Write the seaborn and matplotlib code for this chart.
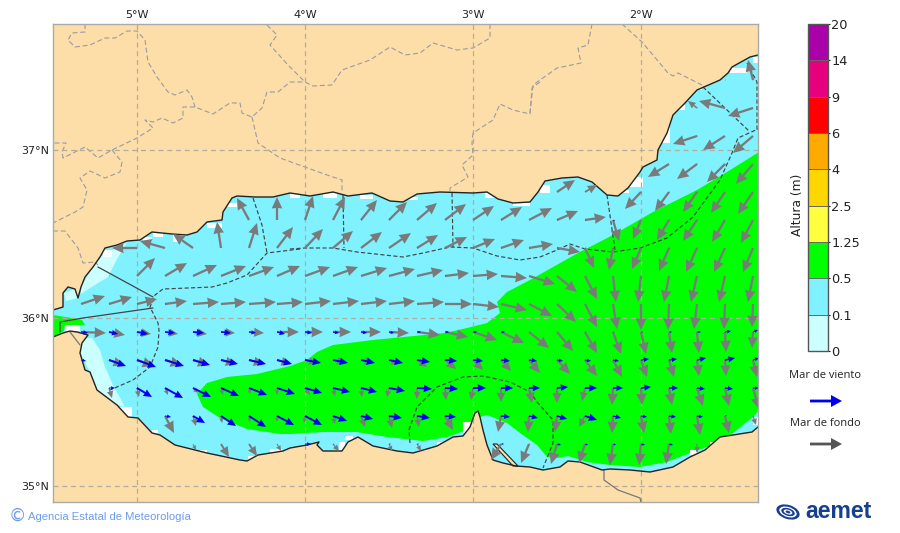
import numpy as np
import matplotlib
matplotlib.use("Agg")
import matplotlib.pyplot as plt
from matplotlib.patches import Polygon, Rectangle, Ellipse
from matplotlib.colors import ListedColormap, BoundaryNorm
from matplotlib.cm import ScalarMappable
import seaborn as sns

# ---------- data (map readings in grid units of 1/168 degree) ----------
lon_ticks = [-5, -4, -3, -2]
lat_ticks = [37, 36, 35]
levels_labels = ["0", "0.1", "0.5", "1.25", "2.5", "4", "6", "9", "14", "20"]
level_colors = ["#CCFFFF", "#80F2FF", "#00FF00", "#FFFF40", "#FFD700", "#FFAA00", "#FF0000", "#E6007E", "#AA00AA"]

north_coast = [(53,310),(63,307),(63,293),(68,287),(75,289),(78,298),(81,287),(85,277),(93,267),(100,257),(105,248),
 (117,245),(127,241),(140,240),(152,232),(172,234),(187,235),(197,232),(207,222),(222,220),(223,212),(232,198),(237,196),
 (255,197),(273,197),(290,193),(310,196),(333,192),(348,196),(372,193),(390,201),(403,202),(417,194),(440,192),(473,193),
 (487,192),(498,199),(513,203),(530,202),(538,192),(545,181),(562,178),(578,177),(592,182),(607,195),(618,196),(628,188),
 (640,172),(643,167),(657,160),(658,150),(667,133),(673,115),(685,103),(697,90),(720,80),(728,73),(732,67),(750,57),(758,55)]
south_coast = [(758,427),(752,432),(733,435),(720,437),(705,450),(690,457),(673,467),(650,472),(630,470),(610,469),(602,470),
 (580,462),(568,461),(560,467),(543,470),(530,467),(516,466),(503,463),(493,460),(487,445),(483,430),(480,417),(478,411),
 (475,413),(470,427),(463,436),(453,437),(437,446),(413,453),(397,451),(373,446),(358,437),(348,442),(342,451),(323,451),
 (317,445),(319,442),(307,445),(290,448),(283,451),(258,455),(247,461),(240,460),(207,453),(175,445),(160,435),(152,433),
 (138,418),(128,417),(117,405),(97,390),(90,372),(85,370),(80,353),(82,343),(88,335),(77,332),(70,331),(63,333),(53,337)]
spit = [(493,444),(497,444),(518,466),(513,466)]

green_main = [(197,394),(207,383),(227,377),(257,374),(290,366),(307,360),(317,352),(333,345),(373,340),(445,333),(467,328),
 (487,323),(500,313),(497,302),(507,292),(530,280),(578,253),(613,235),(653,212),(697,190),(727,172),(759,152),(759,410),
 (753,417),(733,433),(713,445),(690,453),(667,462),(640,467),(610,465),(587,462),(568,456),(557,458),(547,457),(537,445),
 (520,433),(507,423),(487,415),(480,417),(475,420),(467,430),(447,437),(423,441),(387,437),(357,432),(323,432),(290,434),
 (280,434),(247,429),(220,418),(203,407)]
green_strait = [(53,315),(72,318),(82,320),(85,325),(65,325),(64,331),(53,337)]
pale_1 = [(64,293),(75,289),(78,298),(66,301)]
pale_2 = [(81,287),(98,258),(127,242),(115,263),(108,277),(90,288),(81,294)]
pale_3 = [(83,338),(92,338),(100,350),(105,367),(113,385),(125,407),(117,405),(97,390),(90,372),(80,353)]
white_cells = [(103,250,112,257),(173,235,183,242),(207,223,222,228),(223,203,237,207),(153,233,163,237),(143,237,152,242),
 (323,193,337,198),(290,193,300,198),(360,195,373,199),(407,197,418,200),(485,193,497,198),(513,203,530,206),(540,185,550,193),
 (630,177,643,187),(623,190,629,193),(663,127,670,143),(677,105,685,110),(697,87,702,90),(730,68,747,73),(753,57,758,63),
 (120,407,132,417),(152,430,158,433),(248,456,257,460),(200,450,207,453),(270,449,282,452),(339,442,345,450),(345,436,353,440),
 (437,442,445,446),(463,422,472,433),(690,450,697,455),(710,442,715,445),(753,417,758,425),(65,325,80,331)]

sea_dash_a = [(253,198),(262,225),(267,253)]
sea_dash_b = [(300,249),(267,253),(247,275),(227,283),(212,287),(163,289),(155,295),(150,307),(158,323),(159,330),(158,347),(150,367),(133,380),(110,390)]
sea_dash_c = [(290,249),(305,248),(333,248),(357,252),(403,257),(423,253),(450,247),(473,248),(497,256),(520,260),(540,257),(557,250),(570,244),(585,249),(613,252),(640,248),(667,238),(693,217),(720,180),(732,153),(738,138),(758,129)]
sea_dash_d = [(343,195),(344,248)]
sea_dash_e = [(452,193),(453,247)]
sea_dash_f = [(607,195),(615,250)]
sea_dash_g = [(703,87),(750,132)]
sea_dash_h = [(747,63),(757,82),(757,130)]
sea_arc = [(410,443),(409,430),(417,407),(437,387),(463,377),(483,376),(510,382),(530,392),(537,402),(553,420),(553,443),(543,468)]
sea_solid_a = [(98,267),(153,297)]
sea_solid_b = [(153,308),(83,318),(60,322),(60,332)]
morocco_border = [(604,470),(604,480),(618,490),(640,498),(641,502)]
strait_border = [(70,332),(80,345)]

land_1 = [(85,24),(85,32),(72,33),(68,40),(75,47),(90,45),(105,38),(115,38),(127,31),(137,31),(145,40),(148,62),(157,77),(168,92),(175,95),(187,90),(192,97),(195,107)]
land_2 = [(267,25),(277,35),(270,45),(288,65),(305,82)]
land_3 = [(490,24),(490,38),(473,48),(457,50),(433,43),(420,53),(405,55),(390,47),(370,60),(342,70),(332,85),(313,86),(305,82),(290,82),(278,92),(267,92),(262,108),(252,117),(242,113),(240,103),(230,103),(213,114),(195,107),(183,107),(183,118),(173,123),(162,118),(153,122),(145,120),(153,128),(137,138),(112,150),(98,158),(85,147),(63,158),(62,152),(66,143),(53,143)]
land_4 = [(252,117),(258,143),(280,158),(327,175),(342,180),(342,193)]
land_5 = [(112,150),(122,162),(120,172),(105,178),(90,171),(80,178),(87,190),(83,207),(75,212),(53,223)]
land_6 = [(53,231),(65,231),(78,248),(83,263),(95,262),(98,265)]
land_7 = [(540,82),(532,88),(530,114),(513,110),(500,104),(493,120),(473,133),(472,143),(473,155),(462,165),(468,177),(450,188),(450,193)]
land_8 = [(592,24),(588,45),(578,48),(581,63),(557,68),(533,85),(530,113)]
land_9 = [(622,24),(642,42),(668,73),(673,76),(678,73),(702,85)]

# wave vectors by grid row and column: (column, east, north)
swell_r0 = [(24,-5,20)]
swell_r1 = [(22,-9,7),(23,-26,7),(24,-25,-8)]
swell_r2 = [(22,-24,-8),(23,-22,-14),(24,-20,-17)]
swell_r3 = [(21,-21,-13),(22,-20,-15),(23,-18,-18),(24,-17,-20)]
swell_r4 = [(17,18,12),(18,12,7),(20,-16,-17),(21,-14,-19),(22,-14,-20),(23,-14,-21),(24,-15,-22)]
swell_r5 = [(6,-12,22),(7,0,23),(8,8,24),(9,12,23),(10,16,20),(11,18,18),(12,20,17),(13,21,16),(14,21,14),(15,21,13),(16,23,12),(17,21,9),(18,21,3),(19,6,-21),(20,-8,-19),(21,-12,-20),(22,-14,-21),(23,-13,-22),(24,-12,-23)]
swell_r6 = [(2,-25,0),(3,-25,7),(4,-20,14),(5,-4,26),(6,8,25),(7,16,21),(8,18,19),(9,20,17),(10,21,16),(11,22,15),(12,21,13),(13,22,11),(14,22,9),(15,23,8),(16,24,4),(17,23,-4),(18,9,-20),(19,-4,-22),(20,-9,-21),(21,-10,-23),(22,-11,-24),(23,-11,-24),(24,-10,-24)]
swell_r7 = [(2,18,18),(3,22,13),(4,24,11),(5,25,10),(6,25,9),(7,23,10),(8,25,9),(9,25,9),(10,26,8),(11,26,7),(12,26,6),(13,24,3),(14,25,2),(15,26,-2),(16,26,-8),(17,20,-16),(18,12,-23),(19,3,-26),(20,-3,-26),(21,-5,-26),(22,-6,-26),(23,-6,-26),(24,-5,-26)]
swell_r8 = [(0,24,8),(1,23,7),(2,20,5),(3,22,3),(4,26,2),(5,25,2),(6,27,2),(7,26,2),(8,26,3),(9,26,3),(10,26,3),(11,26,3),(12,27,2),(13,27,0),(14,26,-3),(15,26,-6),(16,23,-12),(17,19,-18),(18,12,-23),(19,4,-25),(20,0,-26),(21,-1,-26),(22,-3,-25),(23,-1,-25),(24,-1,-23)]
swell_r9 = [(0,25,-1),(1,16,-3),(2,14,-2),(3,13,-2),(4,14,-2),(5,14,-1),(6,15,-1),(7,22,0),(8,18,0),(9,18,0),(10,20,0),(11,20,-1),(12,23,-3),(13,23,-5),(14,24,-8),(15,23,-11),(16,20,-16),(17,16,-19),(18,12,-21),(19,8,-22),(20,5,-22),(21,3,-21),(22,2,-21),(23,1,-20),(24,-1,-16)]
swell_r10 = [(1,15,-5),(2,17,-6),(3,17,-5),(4,16,-5),(5,15,-4),(6,15,-4),(7,14,-4),(8,12,-3),(9,12,-3),(10,12,-3),(11,9,-5),(12,10,-7),(13,11,-9),(14,10,-10),(15,10,-11),(16,11,-13),(17,13,-14),(18,12,-16),(19,9,-17),(20,6,-17),(21,5,-17),(22,2,-16),(23,1,-16),(24,4,-17)]
swell_r11 = [(1,3,-10),(2,2,-9),(3,3,-7),(4,5,-5),(5,2,-7),(6,1,-6),(7,0,-7),(8,5,-7),(9,2,-8),(10,1,-9),(11,-2,-9),(12,0,-11),(13,1,-12),(14,-2,-12),(15,0,-14),(16,3,-15),(17,0,-15),(18,-3,-13),(19,-1,-17),(20,1,-17),(21,3,-17),(22,6,-18),(23,4,-18),(24,6,-21)]
swell_r12 = [(3,9,-17),(4,3,-10),(5,1,-7),(6,1,-6),(7,0,-6),(8,-1,-7),(9,2,-8),(10,4,-11),(11,3,-12),(12,2,-11),(13,8,-14),(15,-3,-16),(16,-1,-16),(17,-2,-16),(18,-6,-11),(19,-1,-17),(20,3,-17),(21,2,-18),(22,3,-19),(23,4,-17),(24,3,-9)]
swell_r13 = [(4,3,-6),(5,8,-13),(6,8,-12),(7,4,-7),(9,6,-7),(11,3,-7),(12,4,-7),(15,-10,-16),(16,-8,-19),(17,-6,-20),(18,-6,-19),(19,-3,-21),(20,-2,-21),(21,-3,-20),(22,0,-9)]
swell_rows = [swell_r0,swell_r1,swell_r2,swell_r3,swell_r4,swell_r5,swell_r6,swell_r7,swell_r8,swell_r9,swell_r10,swell_r11,swell_r12,swell_r13]

wind_r0 = [(23,1,0),(24,1,0)]
wind_r1 = [(22,1,0)]
wind_r2 = [(22,1,0)]
wind_r3 = [(22,1,0),(23,1,0)]
wind_r4 = [(20,1,0),(21,1,0),(22,1,0)]
wind_r5 = [(5,1,0),(10,1,0),(11,1,0),(15,1,0),(17,1,0),(18,1,0),(19,2,-1),(20,1,0),(21,1,0),(22,1,0)]
wind_r6 = [(12,1,0),(13,1,0),(14,1,0),(15,1,0),(16,1,0),(17,1,0),(18,1,0),(19,1,0),(20,1,0),(21,1,0),(22,1,0)]
wind_r7 = [(1,1,0),(13,1,0),(14,1,0)]
wind_r8 = [(1,1,0),(2,1,0),(3,1,0),(7,1,0)]
wind_r9 = [(0,7,-1),(1,9,-2),(2,11,-2),(3,10,-1),(4,11,-1),(5,10,-1),(6,7,-1),(7,8,-2),(8,7,-1),(9,6,-1),(10,6,-1),(11,5,-1),(12,4,0),(13,4,0),(14,4,0),(15,4,0),(18,1,0),(19,1,0),(20,2,0),(21,3,0),(22,4,0),(23,6,1),(24,5,2)]
wind_r10 = [(0,5,-1),(1,17,-6),(2,19,-7),(3,19,-6),(4,17,-5),(5,17,-4),(6,17,-4),(7,15,-4),(8,16,-3),(9,15,-3),(10,14,-3),(11,14,-3),(12,13,-2),(13,12,-1),(14,10,-1),(15,9,-1),(16,8,-1),(17,6,-1),(18,6,-1),(19,6,-1),(20,8,1),(21,8,1),(22,9,2),(23,10,2),(24,6,2)]
wind_r11 = [(1,6,0),(2,15,-9),(3,18,-10),(4,18,-9),(5,18,-8),(6,18,-7),(7,18,-6),(8,17,-5),(9,17,-4),(10,16,-4),(11,16,-3),(12,15,-1),(13,13,-1),(14,13,0),(15,12,0),(16,11,0),(17,11,1),(18,12,0),(19,10,0),(20,10,1),(21,9,0),(22,8,-1),(23,8,-1),(24,6,0)]
wind_r12 = [(3,6,-1),(4,12,-7),(5,15,-10),(6,17,-11),(7,17,-9),(8,17,-9),(9,14,-5),(10,12,-3),(11,13,-2),(12,13,-2),(13,11,-1),(15,9,-1),(16,9,-2),(17,10,-3),(18,12,-4),(19,8,-2),(20,6,-1),(21,7,-1),(22,6,-1),(23,2,1)]
wind_r13 = [(8,6,0),(9,1,0),(11,2,0),(12,2,0),(15,3,0),(16,1,0),(17,4,-1),(18,3,-1),(19,3,-1),(20,4,-1),(21,4,-1)]
wind_rows = [wind_r0,wind_r1,wind_r2,wind_r3,wind_r4,wind_r5,wind_r6,wind_r7,wind_r8,wind_r9,wind_r10,wind_r11,wind_r12,wind_r13]

# ---------- helpers ----------
UNITS = 168.0
def geo(points):
    p = np.asarray(points, float)
    return np.column_stack([-5 + (p[:, 0] - 137) / UNITS, 36 - (p[:, 1] - 318) / UNITS])

def vectors(rows):
    out = [(-5.3333 + c / 6.0, 37.4167 - r / 6.0, u, v) for r, row in enumerate(rows) for c, u, v in row]
    return np.array(out).T

def line(ax, pts, color, lw, ls="-", z=4):
    g = geo(pts)
    sns.lineplot(x=g[:, 0], y=g[:, 1], sort=False, estimator=None, color=color, linewidth=lw,
                 linestyle=ls, ax=ax, legend=False, zorder=z)

# ---------- figure ----------
sns.set_theme(style="white")
plt.rcParams["font.family"] = ["DejaVu Sans"]
fig = plt.figure(figsize=(9, 5.33), dpi=100)
ax = fig.add_axes([53/900, 31/533, 705/900, 478/533])
LAND = "#FDDEA9"
SEA = level_colors[1]
ax.set_facecolor(LAND)

sea_pts = geo(north_coast + south_coast)
sea = Polygon(sea_pts, closed=True, fc=SEA, ec="none", zorder=1)
ax.add_patch(sea)
for poly, col in [(pale_1, level_colors[0]), (pale_2, level_colors[0]), (pale_3, level_colors[0]),
                  (green_main, level_colors[2]), (green_strait, level_colors[2])]:
    p = Polygon(geo(poly), closed=True, fc=col, ec="none", zorder=1.5)
    ax.add_patch(p)
    p.set_clip_path(sea)
for x0, y0, x1, y1 in white_cells:
    g = geo([(x0, y1), (x1, y0)])
    r = Rectangle(g[0], g[1, 0] - g[0, 0], g[1, 1] - g[0, 1], fc="white", ec="none", zorder=2)
    ax.add_patch(r)
    r.set_clip_path(sea)

ax.add_patch(Polygon(geo(spit), closed=True, fc=LAND, ec="#222222", lw=0.8, zorder=3))

for pts in [land_1, land_2, land_3, land_4, land_5, land_6, land_7, land_8, land_9]:
    line(ax, pts, "#9c9aa0", 0.8, (0, (4.5, 2.5)), 2.5)
for lon in lon_ticks:
    ax.axvline(lon, color="#b3ad9e", lw=0.9, ls=(0, (4, 3)), zorder=2.6)
for lat in lat_ticks:
    ax.axhline(lat, color="#b3ad9e", lw=0.9, ls=(0, (4, 3)), zorder=2.6)

line(ax, morocco_border, "#777777", 0.9)
line(ax, strait_border, "#777777", 0.9)
for pts in [sea_dash_a, sea_dash_b, sea_dash_c, sea_dash_d, sea_dash_e, sea_dash_f, sea_dash_g, sea_dash_h, sea_arc]:
    line(ax, pts, "#444444", 0.85, (0, (3.5, 2)))
for pts in [sea_solid_a, sea_solid_b]:
    line(ax, pts, "#444444", 0.9)
line(ax, north_coast, "#222222", 1.0, z=5)
line(ax, south_coast, "#222222", 1.0, z=5)

x, y, u, v = vectors(swell_rows)
ax.quiver(x, y, u, v, angles="xy", scale_units="xy", scale=UNITS, units="dots", width=2.3, pivot="tail",
          headwidth=4.6, headlength=5.0, headaxislength=4.8, minshaft=1.5, minlength=0.3, color="#7a7a7a", zorder=6)
x, y, u, v = vectors(wind_rows)
ax.quiver(x, y, u, v, angles="xy", scale_units="xy", scale=UNITS, units="dots", width=1.9, pivot="tail",
          headwidth=4.0, headlength=4.4, headaxislength=4.2, minshaft=1.5, minlength=0.3, color="#0000ee", zorder=7)

ax.set_xlim(-5 + (53 - 137) / UNITS, -5 + (758 - 137) / UNITS)
ax.set_ylim(36 - (502 - 318) / UNITS, 36 - (24 - 318) / UNITS)
ax.set_xlabel(""); ax.set_ylabel("")
ax.xaxis.tick_top()
ax.set_xticks(lon_ticks, [f"{abs(t)}°W" for t in lon_ticks])
ax.set_yticks(lat_ticks, [f"{t}°N" for t in lat_ticks])
ax.tick_params(axis="both", length=0, labelsize=8, colors="#222222", pad=3)
for s in ax.spines.values():
    s.set_color("#aaaaaa"); s.set_linewidth(1.0); s.set_zorder(8)

# colour bar
cax = fig.add_axes([808/900, (533-351)/533, 20/900, 327/533])
bounds = np.arange(len(levels_labels))
cb = fig.colorbar(ScalarMappable(norm=BoundaryNorm(bounds, len(level_colors)), cmap=ListedColormap(level_colors)),
                  cax=cax, ticks=bounds, spacing="uniform", drawedges=True)
cb.ax.set_yticklabels(levels_labels)
cb.ax.tick_params(length=1.5, width=0.8, labelsize=9.3, colors="#222222", pad=1)
cb.outline.set_edgecolor("#555555"); cb.outline.set_linewidth(1.0)
cb.dividers.set_color("#666666"); cb.dividers.set_linewidth(0.7)
fig.text(798/900, 1 - 205/533, "Altura (m)", rotation=90, ha="center", va="center", fontsize=8.8, color="#222222")

# legend
fig.text(825/900, 1 - 376/533, "Mar de viento", ha="center", va="center", fontsize=8.0, family="Open Sans", color="#222222")
fig.text(825/900, 1 - 423/533, "Mar de fondo", ha="center", va="center", fontsize=8.0, family="Open Sans", color="#222222")
for yy, col in [(401, "#0000ee"), (444, "#555555")]:
    fig.add_artist(matplotlib.patches.FancyArrow(810/900, 1 - yy/533, 32/900, 0, width=2.8/533, head_width=12/533,
                   head_length=11/900, length_includes_head=True, color=col, transform=fig.transFigure, lw=0))

# footer
fig.text(17/900, 1 - 516/533, "©", ha="center", va="center", fontsize=12.5, color="#6d9cec", family="DejaVu Sans")
fig.text(28/900, 1 - 516.5/533, "Agencia Estatal de Meteorología", ha="left", va="center", fontsize=8.1,
         family="Liberation Sans", color="#6d9cec")

# aemet logo
lg = fig.add_axes([776/900, (533-523)/533, 26/900, 21/533])
lg.set_xlim(0, 26); lg.set_ylim(0, 21); lg.axis("off")
for w, h, c in [(24, 14, "#173f8f"), (18, 10, "white"), (14, 7.5, "#173f8f"), (9, 4.5, "white"), (5, 2.5, "#173f8f")]:
    lg.add_patch(Ellipse((12, 11), w, h, angle=-18, fc=c, ec="none"))
fig.text(805/900, 1 - 511/533, "aemet", ha="left", va="center", fontsize=16.6, fontweight="bold",
         family="Liberation Sans", color="#173f8f")

fig.savefig("out.png", dpi=100)
